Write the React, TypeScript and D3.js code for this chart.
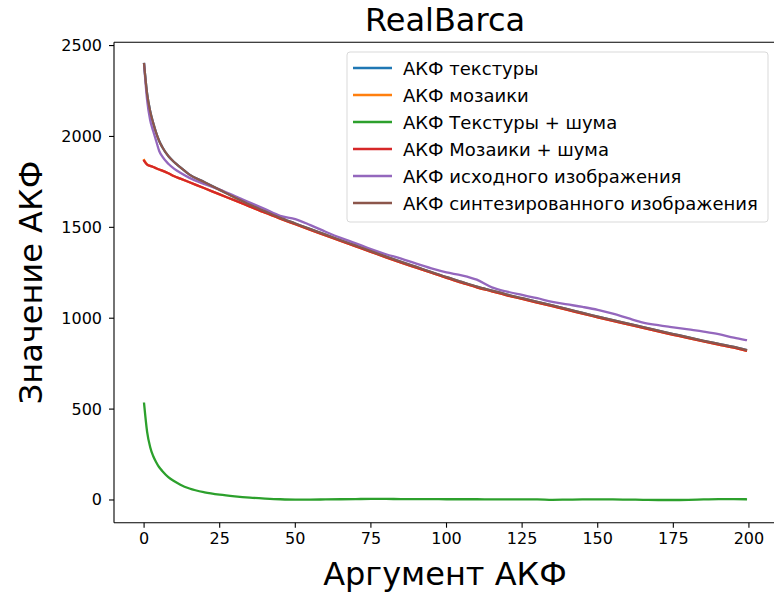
import React from "react";
import * as d3 from "d3";

const lags = [0, 1, 2, 3, 4, 5, 6, 8, 10, 12, 15, 20, 25, 30, 35, 40, 45, 50, 55, 60, 65, 70, 75, 80, 85, 90, 95, 100, 105, 110, 115, 120, 125, 130, 135, 140, 145, 150, 155, 160, 165, 170, 175, 180, 185, 190, 195, 199];

const textureAcf = [2398, 2235, 2140, 2075, 2020, 1975, 1942, 1892, 1858, 1830, 1790, 1748, 1706, 1664, 1624, 1588, 1552, 1521, 1490, 1460, 1429, 1399, 1369, 1339, 1310, 1282, 1254, 1226, 1200, 1174, 1152, 1130, 1110, 1090, 1070, 1050, 1029, 1009, 989, 970, 951, 932, 913, 894, 876, 859, 842, 826];
const mosaicAcf = [1870, 1846, 1838, 1832, 1825, 1818, 1812, 1798, 1781, 1768, 1748, 1715, 1681, 1648, 1614, 1580, 1548, 1517, 1486, 1456, 1425, 1395, 1365, 1335, 1306, 1278, 1250, 1222, 1196, 1170, 1148, 1126, 1106, 1086, 1066, 1046, 1025, 1005, 985, 966, 947, 928, 909, 890, 872, 855, 838, 822];
const textureNoiseAcf = [530, 375, 292, 242, 208, 180, 160, 126, 103, 84, 63, 42, 29, 20, 13, 8, 4, 2, 2, 3, 4, 5, 6, 6, 5, 5, 5, 4, 4, 4, 3, 3, 3, 3, 1, 2, 3, 3, 3, 2, 1, 0, 0, 1, 3, 5, 5, 4];
const mosaicNoiseAcf = [1866, 1845, 1838, 1832, 1825, 1818, 1812, 1798, 1781, 1768, 1748, 1715, 1681, 1648, 1614, 1580, 1548, 1517, 1486, 1456, 1425, 1395, 1365, 1335, 1306, 1278, 1250, 1222, 1196, 1170, 1148, 1126, 1106, 1086, 1066, 1046, 1025, 1005, 985, 966, 947, 928, 909, 890, 872, 855, 838, 822];
const originalAcf = [2398, 2200, 2090, 2030, 1975, 1920, 1890, 1850, 1822, 1800, 1772, 1738, 1708, 1672, 1636, 1600, 1563, 1545, 1512, 1476, 1442, 1412, 1380, 1352, 1328, 1300, 1274, 1252, 1236, 1212, 1170, 1146, 1128, 1110, 1090, 1076, 1062, 1046, 1025, 1000, 976, 962, 950, 938, 926, 912, 893, 880];
const synthAcf = [2398, 2235, 2140, 2075, 2020, 1975, 1942, 1892, 1858, 1830, 1790, 1748, 1706, 1664, 1624, 1588, 1552, 1521, 1490, 1460, 1429, 1399, 1369, 1339, 1310, 1282, 1254, 1226, 1200, 1174, 1152, 1130, 1110, 1090, 1070, 1050, 1029, 1009, 989, 970, 951, 932, 913, 894, 876, 859, 842, 826];

const seriesNames = [
  "АКФ текстуры",
  "АКФ мозаики",
  "АКФ Текстуры + шума",
  "АКФ Мозаики + шума",
  "АКФ исходного изображения",
  "АКФ синтезированного изображения",
];
const seriesValues = [textureAcf, mosaicAcf, textureNoiseAcf, mosaicNoiseAcf, originalAcf, synthAcf];
const colors = ["#1f77b4", "#ff7f0e", "#2ca02c", "#d62728", "#9467bd", "#8c564b"];

const xTicks = [0, 25, 50, 75, 100, 125, 150, 175, 200];
const yTicks = [0, 500, 1000, 1500, 2000, 2500];

const title = "RealBarca";
const xLabel = "Аргумент АКФ";
const yLabel = "Значение АКФ";

const W = 774;
const H = 594;
const left = 114;
const right = 776;
const top = 42.3;
const bottom = 522.7;
const font = "'DejaVu Sans', sans-serif";

export default function App() {
  const x = d3.scaleLinear().domain([-9.95, 208.95]).range([left, right]);
  const y = d3.scaleLinear().domain([-125, 2518]).range([bottom, top]);
  const line = d3
    .line<number>()
    .x((_, i) => x(lags[i]))
    .y((d) => y(d))
    .curve(d3.curveMonotoneX);

  const legX = 347;
  const legY = 52;
  const rowH = 27;

  return (
    <svg
      width={W}
      height={H}
      style={{ position: "absolute", left: 0, top: 0, background: "#fff" }}
      fontFamily={font}
    >
      <rect x={0} y={0} width={W} height={H} fill="#fff" />
      <defs>
        <clipPath id="plotclip">
          <rect x={left} y={top} width={right - left} height={bottom - top} />
        </clipPath>
      </defs>
      <g clipPath="url(#plotclip)">
        {seriesValues.map((vals, i) => (
          <path
            key={i}
            d={line(vals) || ""}
            fill="none"
            stroke={colors[i]}
            strokeWidth={2.3}
            strokeLinejoin="round"
            strokeLinecap="square"
          />
        ))}
      </g>
      <line x1={left} x2={left} y1={top} y2={bottom} stroke="#000" strokeWidth={1.1} />
      <line x1={left} x2={right} y1={bottom} y2={bottom} stroke="#000" strokeWidth={1.1} />
      <line x1={left} x2={right} y1={top} y2={top} stroke="#000" strokeWidth={1.1} />
      <line x1={right} x2={right} y1={top} y2={bottom} stroke="#000" strokeWidth={1.1} />
      {xTicks.map((t) => (
        <g key={t}>
          <line x1={x(t)} x2={x(t)} y1={bottom} y2={bottom + 5} stroke="#000" strokeWidth={1.1} />
          <text x={x(t)} y={bottom + 9} textAnchor="middle" dominantBaseline="hanging" fontSize={16} fill="#000">
            {t}
          </text>
        </g>
      ))}
      {yTicks.map((t) => (
        <g key={t}>
          <line x1={left - 5} x2={left} y1={y(t)} y2={y(t)} stroke="#000" strokeWidth={1.1} />
          <text x={left - 12} y={y(t)} textAnchor="end" dominantBaseline="central" fontSize={16} fill="#000">
            {t}
          </text>
        </g>
      ))}
      <text x={(left + right) / 2} y={31} textAnchor="middle" fontSize={32} fill="#000">
        {title}
      </text>
      <text x={(left + right) / 2} y={585} textAnchor="middle" fontSize={32} fill="#000">
        {xLabel}
      </text>
      <text
        transform={`translate(42, ${(top + bottom) / 2}) rotate(-90)`}
        textAnchor="middle"
        fontSize={32}
        fill="#000"
      >
        {yLabel}
      </text>
      <rect
        x={legX}
        y={legY}
        width={421}
        height={170}
        rx={3}
        fill="#fff"
        fillOpacity={0.8}
        stroke="#d9d9d9"
        strokeWidth={1}
      />
      {seriesNames.map((name, i) => (
        <g key={name}>
          <line
            x1={353}
            x2={392}
            y1={legY + 16 + i * rowH}
            y2={legY + 16 + i * rowH}
            stroke={colors[i]}
            strokeWidth={2.3}
          />
          <text x={403} y={legY + 16 + i * rowH} dominantBaseline="central" fontSize={18} fill="#000">
            {name}
          </text>
        </g>
      ))}
    </svg>
  );
}
